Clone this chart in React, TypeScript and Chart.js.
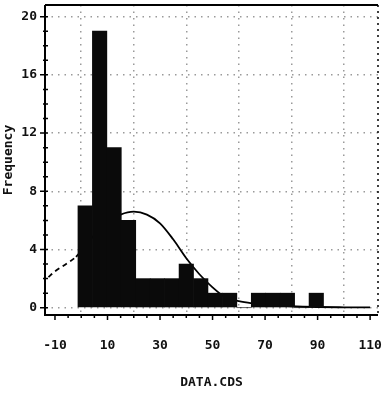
import React, { useEffect, useRef } from "react";
import { Chart, registerables } from "chart.js";

Chart.register(...registerables);

// Histogram bins (bin centres) and counts
const binCenters = [1.5, 7.0, 12.5, 18.0, 23.5, 29.0, 34.5, 40.0, 45.5, 51.0, 56.5, 62.0, 67.5, 73.0, 78.5, 84.0, 89.5];
const binCounts = [7, 19, 11, 6, 2, 2, 2, 3, 2, 1, 1, 0, 1, 1, 1, 0, 1];

// Fitted curve, points
const curveX = [-12.5, -10, -5, -2, 5, 10, 15, 20, 25, 30, 35, 40, 45, 50, 55, 60, 65, 70, 80, 90, 100, 110];
const curveY = [2.1, 2.5, 3.1, 3.5, 5.0, 5.9, 6.4, 6.6, 6.4, 5.8, 4.7, 3.4, 2.3, 1.4, 0.7, 0.45, 0.3, 0.2, 0.1, 0.05, 0.03, 0.02];

const xTicks = [-10, 10, 30, 50, 70, 90, 110];
const yTicks = [0, 4, 8, 12, 16, 20];
const xTitle = "DATA.CDS";
const yTitle = "Frequency";

const FONT = "'DejaVu Sans Mono', 'Liberation Mono', monospace";

const framePlugin = {
  id: "frame",
  afterDraw(chart: any) {
    const { ctx, chartArea } = chart;
    const { left, right, top, bottom } = chartArea;
    const xs = chart.scales.x;
    const ys = chart.scales.y;
    ctx.save();
    ctx.strokeStyle = "#000";
    ctx.lineWidth = 2;
    ctx.setLineDash([]);
    ctx.beginPath();
    ctx.moveTo(left, top);
    ctx.lineTo(right, top);
    ctx.moveTo(left, top);
    ctx.lineTo(left, bottom);
    ctx.lineTo(right, bottom);
    ctx.stroke();
    ctx.lineWidth = 1.5;
    ctx.setLineDash([2, 4]);
    ctx.beginPath();
    ctx.moveTo(right, top);
    ctx.lineTo(right, bottom);
    ctx.stroke();
    ctx.setLineDash([]);
    ctx.lineWidth = 1.5;
    ctx.beginPath();
    for (let v = 0; v <= 20; v++) {
      const y = ys.getPixelForValue(v);
      const major = v % 4 === 0;
      ctx.moveTo(left - (major ? 5 : 2), y);
      ctx.lineTo(left + 3, y);
    }
    for (let v = -10; v <= 110; v += 5) {
      const x = xs.getPixelForValue(v);
      const major = (v + 10) % 20 === 0;
      ctx.moveTo(x, bottom);
      ctx.lineTo(x, bottom + (major ? 5 : 3));
    }
    ctx.stroke();
    ctx.restore();
  },
};

export default function App() {
  const ref = useRef<HTMLCanvasElement>(null);
  useEffect(() => {
    document.body.style.margin = "0";
    const canvas = ref.current!;
    const chart = new Chart(canvas, {
      type: "bar",
      data: {
        datasets: [
          {
            type: "bar",
            data: binCenters.map((x, i) => ({ x, y: binCounts[i] })),
            backgroundColor: "#0a0a0a",
            borderWidth: 0,
            barPercentage: 1,
            categoryPercentage: 1,
            order: 0,
          } as any,
          {
            type: "line",
            data: curveX.map((x, i) => ({ x, y: curveY[i] })),
            borderColor: "#000",
            borderWidth: 1.8,
            pointRadius: 0,
            fill: false,
            cubicInterpolationMode: "monotone",
            order: 1,
            segment: {
              borderDash: (c: any) => (c.p1.parsed.x <= -2 ? [5, 4] : undefined),
            },
          } as any,
        ],
      },
      options: {
        responsive: false,
        animation: false,
        devicePixelRatio: 1,
        layout: { padding: { left: 0, right: 4, top: 5, bottom: 0 } },
        plugins: { legend: { display: false }, tooltip: { enabled: false } },
        scales: {
          x: {
            type: "linear",
            min: -13.8,
            max: 113,
            offset: false,
            afterBuildTicks: (s: any) => {
              s.ticks = xTicks.map((v) => ({ value: v }));
            },
            afterFit: (s: any) => {
              s.height = 85;
              s.paddingLeft = 0;
              s.paddingRight = 0;
            },
            ticks: {
              color: "#111",
              font: { family: FONT, size: 13, weight: "bold" },
              padding: 23,
              maxRotation: 0,
              autoSkip: false,
              callback: (v: any) => String(v),
            },
            grid: { color: "#9a9a9a", lineWidth: 1.5, drawTicks: false },
            border: { display: false, dash: [1.5, 5] },
            title: {
              display: true,
              text: xTitle,
              color: "#111",
              font: { family: FONT, size: 13, weight: "bold" },
              padding: { top: 0, bottom: 10 },
            },
          },
          y: {
            type: "linear",
            min: -0.5,
            max: 20.8,
            afterBuildTicks: (s: any) => {
              s.ticks = yTicks.map((v) => ({ value: v }));
            },
            afterFit: (s: any) => {
              s.width = 45;
              s.paddingTop = 0;
              s.paddingBottom = 0;
            },
            ticks: {
              color: "#111",
              font: { family: FONT, size: 13, weight: "bold" },
              padding: 8,
              callback: (v: any) => String(v),
            },
            grid: { color: "#9a9a9a", lineWidth: 1.5, drawTicks: false },
            border: { display: false, dash: [1.5, 5] },
            title: {
              display: true,
              text: yTitle,
              color: "#111",
              font: { family: FONT, size: 13, weight: "bold" },
              padding: { top: 1, bottom: 0 },
            },
          },
        },
      },
      plugins: [framePlugin],
    });
    return () => chart.destroy();
  }, []);
  return (
    <div style={{ width: 382, height: 400, background: "#fff" }}>
      <canvas ref={ref} width={382} height={400} style={{ display: "block" }} />
    </div>
  );
}
